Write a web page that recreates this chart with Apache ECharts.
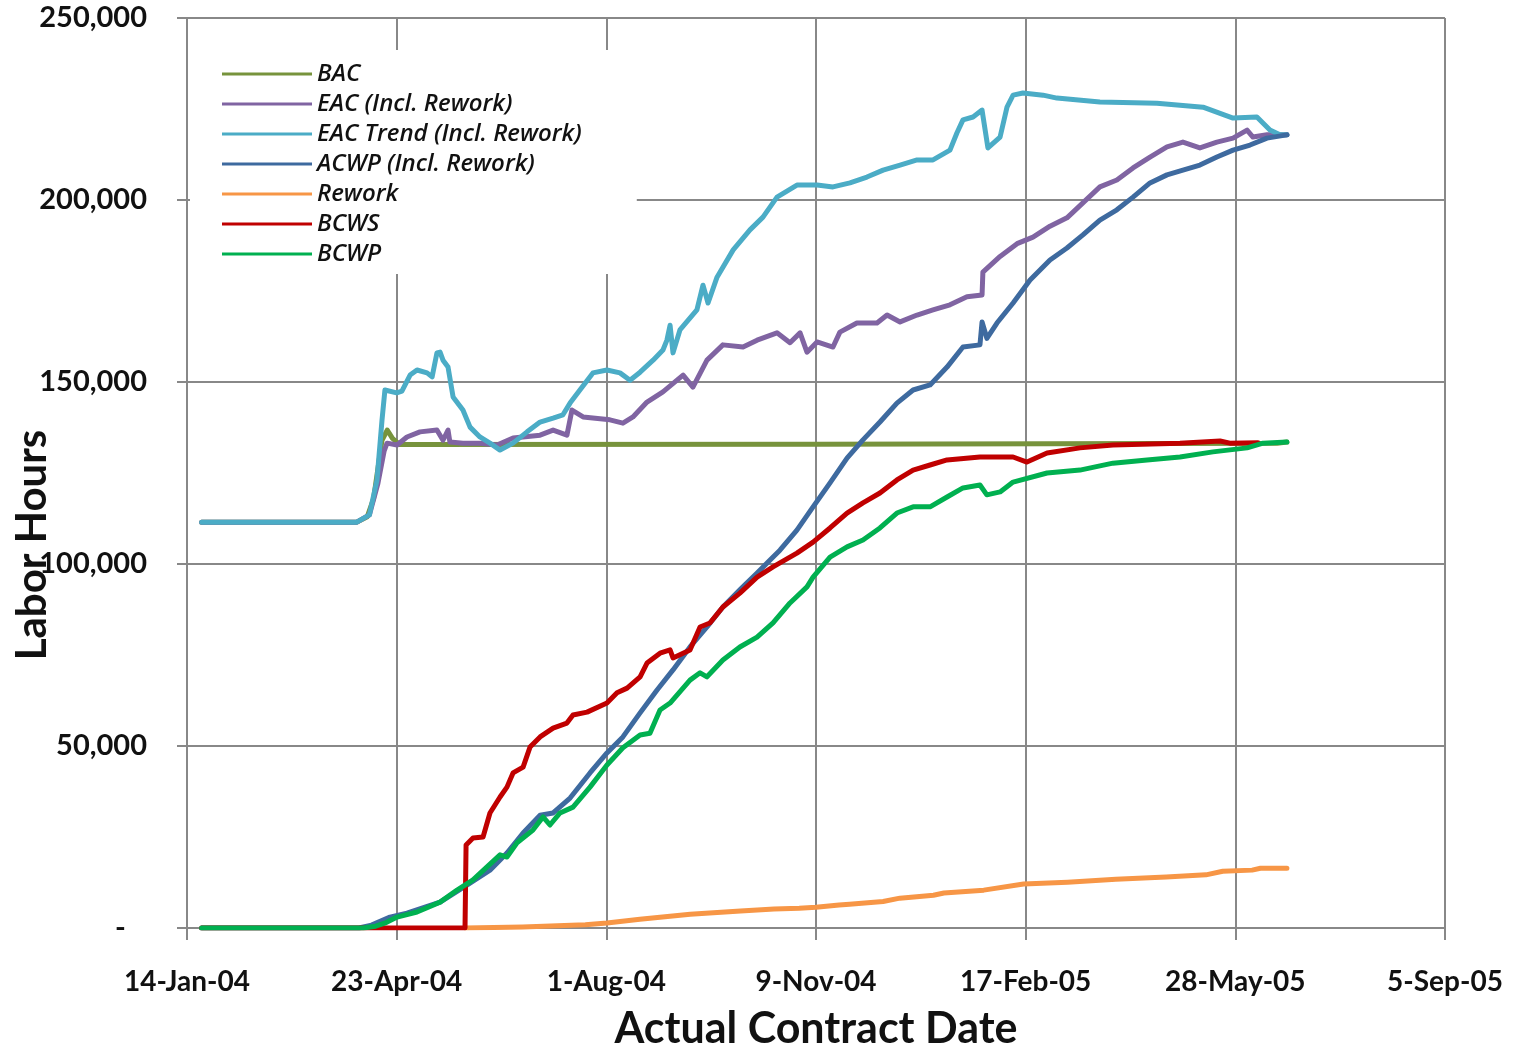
<!DOCTYPE html>
<html>
<head>
<meta charset="utf-8">
<script src="https://cdn.jsdelivr.net/npm/echarts@6/dist/echarts.min.js"></script>
<style>
html,body{margin:0;padding:0;background:#fff;}
#chart{width:1517px;height:1049px;}
</style>
</head>
<body>
<div id="chart"></div>
<script>
// x values are days since 14-Jan-04
var xTickLabels = ['14-Jan-04','23-Apr-04','1-Aug-04','9-Nov-04','17-Feb-05','28-May-05','5-Sep-05'];
var yTickValues = [0, 50000, 100000, 150000, 200000, 250000];
var seriesNames = ['BAC','EAC (Incl. Rework)','EAC Trend (Incl. Rework)','ACWP (Incl. Rework)','Rework','BCWS','BCWP'];

var bac = [[7,111500],[81,111500],[86,113000],[89,118000],[93,134000],[95.5,136800],[98,134500],[101.5,132800],[300,132900],[520,133200],[524.6,133500]];

var eac = [[7,111500],[81,111500],[87,113500],[91,122000],[94,131000],[95.4,133200],[100.2,132700],[104.9,134900],[111.1,136300],[119.2,136800],[122.1,134000],[124.5,136800],[125.4,133500],[131.6,133200],[139.7,133200],[147.9,132700],[155.5,134600],[168.4,135400],[174.6,136800],[181.2,135400],[183.6,142300],[188.9,140400],[201.7,139600],[207.9,138700],[212.7,140400],[219.4,144500],[227,147300],[236.6,151900],[241.3,148600],[248,156000],[255.6,160200],[265.2,159600],[271.9,161500],[281.4,163500],[287.6,160800],[292.4,163500],[295.7,158200],[300.5,161000],[308.1,159600],[311.4,163700],[319.5,166200],[329.1,166200],[333.9,168400],[340.1,166500],[348.2,168400],[355.8,169800],[363.9,171200],[372,173400],[379.2,173900],[379.6,180200],[387.8,184500],[395.9,188000],[403.5,189800],[411.6,192800],[419.7,195100],[427.3,199200],[435.4,203600],[443.5,205500],[451.2,208800],[459.3,211800],[467.4,214600],[475,215900],[483.1,214300],[491.2,215900],[498.9,217000],[505.6,219200],[508.4,217300],[515.1,217900],[524.6,217900]];

var eacTrend = [[7,111500],[81,111500],[87,113500],[90.6,123000],[93,139500],[94.4,147800],[100,147000],[102.5,147500],[106.4,151900],[109.7,153300],[114.5,152500],[116.9,151400],[119.2,158000],[120.7,158200],[122.1,156000],[124.5,154100],[126.9,145900],[131.6,142300],[135,137600],[139.7,134900],[144.5,133200],[149.3,131300],[155.5,133200],[162.2,136300],[168.4,139000],[174.6,140100],[179.3,141000],[182.7,144200],[187.4,147800],[193.6,152500],[200.3,153300],[206.5,152500],[211.3,150500],[216.1,152700],[222.3,156000],[227,158800],[228.9,161500],[230.4,165600],[231.8,158000],[235.1,164300],[243.2,169800],[246.1,176600],[248.5,171700],[252.8,178800],[260.5,186300],[268.5,191800],[274.7,195300],[281.4,200800],[290.9,204100],[300.5,204100],[308.1,203600],[316.2,204700],[324.3,206300],[332,208200],[340.1,209600],[348.2,211000],[355.8,211000],[363.9,213700],[367.2,218400],[370.1,222000],[374.9,222800],[379.2,224700],[382,214300],[387.8,217300],[391.1,225500],[394,228800],[398.7,229400],[408.3,228800],[414.9,228000],[435.4,226900],[462.6,226600],[484.6,225500],[498.9,222500],[510.3,222800],[516.5,219200],[521.3,217900],[524.6,217900]];

var acwp = [[7,0],[82,0],[88,800],[96.8,3000],[104.9,4100],[120.7,7100],[133.5,11800],[144.5,15900],[152.6,20600],[160.3,26100],[168.4,31000],[174.6,31600],[182.7,35700],[192.2,42600],[200.3,48100],[207.9,52500],[216.1,59100],[224.2,65400],[231.8,70900],[239.9,77200],[248,82700],[255.6,88200],[263.7,92900],[271.9,97500],[278.1,101100],[282.8,103800],[290.9,109300],[298.6,115700],[306.7,122300],[314.8,129100],[322.4,134100],[330.5,139000],[338.6,144200],[346.3,147800],[354.4,149200],[362.5,154100],[370.1,159600],[378.2,160200],[379.2,166500],[381.5,162000],[386.3,166200],[394,171700],[402.1,178000],[411.6,183500],[419.7,186800],[427.3,190400],[435.4,194500],[443.5,197300],[451.2,200800],[459.3,204700],[467.4,206900],[475,208200],[483.1,209600],[491.2,211800],[498.9,213700],[507,215100],[515.1,217000],[524.6,217900]];

var rework = [[132.6,0],[160,300],[190,900],[200.3,1400],[216,2400],[240,3800],[264,4700],[280,5200],[292,5400],[300,5700],[311,6300],[316,6500],[332,7300],[340,8200],[356,9000],[361,9600],[380,10400],[399,12100],[420,12600],[443,13400],[467,14000],[486,14600],[494,15600],[508,15900],[512,16400],[524.6,16400]];

var bcws = [[7,0],[132.6,0],[133.1,22800],[136.4,24700],[141.2,25000],[144.5,31600],[149.3,36000],[152.6,38700],[155.5,42600],[160.3,44200],[163.6,49700],[168.4,52500],[174.6,54900],[181.2,56300],[184.1,58500],[190.8,59300],[200.3,61800],[205.1,64600],[209.9,65900],[216.1,69000],[219.4,72800],[225.6,75500],[230.4,76400],[231.8,74200],[239.9,76400],[244.7,82700],[249.4,83800],[255.6,88200],[263.7,92000],[271.9,96400],[279.5,99200],[282.8,100300],[290.9,103000],[298.6,106000],[306.7,109900],[314.8,114000],[322.4,116800],[330.5,119500],[338.6,123100],[346.3,125800],[354.4,127200],[362.5,128600],[378.2,129400],[394,129400],[400.6,128000],[410.2,130500],[425.9,131900],[441.6,132700],[473.6,133200],[492.7,133800],[497.4,133200],[510.8,133300]];

var bcwp = [[7,0],[84,0],[90,500],[95,1500],[100.2,3000],[109.7,4400],[120.7,7100],[128.8,10400],[136.4,13200],[143.1,16800],[149.3,20100],[152.6,19500],[157.4,23400],[165,26900],[169.8,30500],[173.1,28300],[177.9,31600],[184.1,33200],[192.2,38700],[200.3,44800],[207.9,49500],[216.1,53000],[220.8,53500],[225.6,59900],[230.4,61800],[239.9,68100],[244.7,70100],[248,69000],[255.6,73600],[263.7,77200],[271.9,79900],[279.5,83800],[287.6,89300],[295.7,93700],[298.6,96400],[306.7,101900],[314.8,104700],[322.4,106600],[330.5,109900],[338.6,114000],[346.3,115700],[354.4,115700],[362.5,118400],[370.1,120900],[378.2,121700],[381.5,119000],[387.8,119800],[394,122500],[410.2,125000],[425.9,125800],[441.6,127700],[457.9,128600],[473.6,129400],[489.3,130800],[505.6,131900],[513.2,133200],[524.6,133500]];

var seriesData = [bac, eac, eacTrend, acwp, rework, bcws, bcwp];
var seriesColors = ['#77933C','#8064A2','#4BACC6','#3E6A9F','#F79646','#C00000','#00B050'];

var gridGrey = '#888888';
var font = 'Lato, "Open Sans", sans-serif';
var legendFont = '"Open Sans", Lato, sans-serif';

var chart = echarts.init(document.getElementById('chart'), null, {renderer: 'canvas'});

var series = seriesNames.map(function (name, i) {
  return {
    name: name,
    type: 'line',
    data: seriesData[i],
    showSymbol: false,
    symbol: 'none',
    smooth: false,
    lineStyle: {width: 5, color: seriesColors[i], cap: 'round', join: 'round'},
    itemStyle: {color: seriesColors[i]},
    z: 2 + i,
    animation: false
  };
});

chart.setOption({
  animation: false,
  backgroundColor: '#ffffff',
  grid: {left: 187, right: 72, top: 18, bottom: 121, containLabel: false, outerBoundsMode: 'none'},
  legend: {
    orient: 'vertical',
    left: 190,
    top: 50,
    padding: [12, 55, 8, 32],
    backgroundColor: '#ffffff',
    icon: 'rect',
    itemWidth: 90,
    itemHeight: 3,
    itemGap: 6,
    data: seriesNames,
    textStyle: {fontFamily: legendFont, fontStyle: 'italic', fontWeight: 600, fontSize: 24, lineHeight: 24, color: '#111'}
  },
  xAxis: {
    type: 'value',
    min: 0,
    max: 600,
    interval: 100,
    name: 'Actual Contract Date',
    nameLocation: 'middle',
    nameGap: 80,
    nameMoveOverlap: false,
    nameTextStyle: {fontFamily: font, fontWeight: 'bold', fontSize: 43, color: '#111'},
    axisLine: {show: true, lineStyle: {color: gridGrey, width: 2}},
    axisTick: {show: true, inside: false, length: 12, lineStyle: {color: gridGrey, width: 2}},
    splitLine: {show: true, lineStyle: {color: gridGrey, width: 2}},
    axisLabel: {
      margin: 40,
      fontFamily: font, fontWeight: 'bold', fontSize: 28, color: '#111',
      formatter: function (v) { return xTickLabels[Math.round(v / 100)]; }
    }
  },
  yAxis: {
    type: 'value',
    min: yTickValues[0],
    max: yTickValues[yTickValues.length - 1],
    interval: 50000,
    name: 'Labor Hours',
    nameLocation: 'middle',
    nameGap: 134,
    nameRotate: 90,
    nameMoveOverlap: false,
    nameTextStyle: {fontFamily: font, fontWeight: 'bold', fontSize: 42, color: '#111', padding: [0, 144, 0, 0]},
    axisLine: {show: true, lineStyle: {color: gridGrey, width: 2}},
    axisTick: {show: true, inside: false, length: 10, lineStyle: {color: gridGrey, width: 2}},
    splitLine: {show: true, lineStyle: {color: gridGrey, width: 2}},
    axisLabel: {
      margin: 40,
      fontFamily: font, fontWeight: 'bold', fontSize: 29, color: '#111',
      formatter: function (v) { return v === 0 ? '-   ' : v.toLocaleString('en-US'); }
    }
  },
  series: series
});
</script>
</body>
</html>
